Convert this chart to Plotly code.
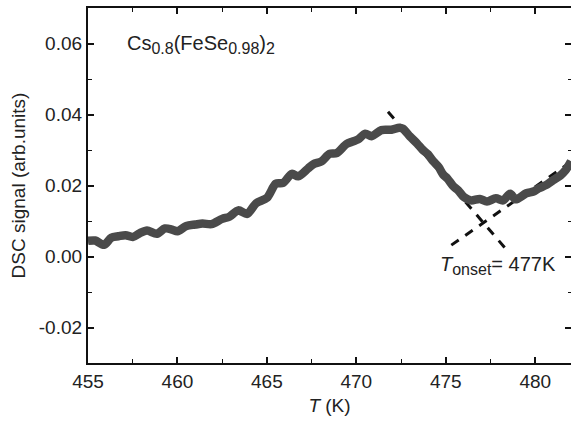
import plotly.graph_objects as go

# DSC curve (T in K, signal in arb. units)
temperature = [455.0, 455.4, 455.9, 456.3, 456.7, 457.1, 457.5, 457.9, 458.3, 458.85,
               459.3, 459.7, 460.0, 460.5, 461.0, 461.4, 461.9, 462.5, 462.9, 463.4,
               463.9, 464.4, 465.0, 465.5, 465.9, 466.4, 466.75, 467.3, 467.6, 468.05,
               468.5, 468.9, 469.45, 469.8, 470.1, 470.5, 470.85, 471.4, 471.96, 472.4,
               472.6, 473.0, 473.4, 473.7, 474.0, 474.3, 474.6, 474.85, 475.1, 475.4,
               475.7, 476.0, 476.4, 476.9, 477.3, 477.8, 478.2, 478.6, 478.9, 479.5,
               479.9, 480.2, 480.6, 481.0, 481.4, 481.7, 482.0]
dsc_signal = [0.0044, 0.0045, 0.0033, 0.0053, 0.0057, 0.0060, 0.0055, 0.0066, 0.0073, 0.0064,
              0.0079, 0.0076, 0.0071, 0.0086, 0.0090, 0.0093, 0.0091, 0.0106, 0.0112, 0.0130,
              0.0120, 0.0150, 0.0165, 0.0205, 0.0207, 0.0233, 0.0226, 0.0248, 0.0260, 0.0268,
              0.0289, 0.0291, 0.0317, 0.0324, 0.0330, 0.0346, 0.0339, 0.0356, 0.0357, 0.0363,
              0.0360, 0.0338, 0.0318, 0.0301, 0.0288, 0.0268, 0.0252, 0.0231, 0.0219, 0.0199,
              0.0186, 0.0168, 0.0158, 0.0162, 0.0155, 0.0164, 0.0158, 0.0177, 0.0161, 0.0178,
              0.0183, 0.0192, 0.0201, 0.0215, 0.0228, 0.0243, 0.0268]

# Tangent construction lines for the onset
tangent_fall_T = [471.77, 478.57]
tangent_fall_y = [0.0408, 0.0009]
tangent_rise_T = [475.31, 481.95]
tangent_rise_y = [0.0032, 0.0265]

x_ticks = [455, 460, 465, 470, 475, 480]
y_ticks = [-0.02, 0.00, 0.02, 0.04, 0.06]
y_tick_text = ["-0.02", "0.00", "0.02", "0.04", "0.06"]

FONT = "Liberation Sans, Arial, sans-serif"
TXT = "#222222"
FS = 19

def sub(s):
    return "<sub><span style='font-size:16px'>" + s + "</span></sub>"

fig = go.Figure()
fig.add_trace(go.Scatter(x=temperature, y=dsc_signal, mode="lines",
                         line=dict(color="#4a4a4a", width=8.5, shape="spline", smoothing=0.8),
                         yaxis="y2", showlegend=False, hoverinfo="skip"))
fig.add_trace(go.Scatter(x=temperature, y=dsc_signal, mode="lines",
                         line=dict(color="#8a8a8a", width=6.5, shape="spline", smoothing=0.8),
                         showlegend=False, hoverinfo="skip"))
fig.add_trace(go.Scatter(x=temperature, y=dsc_signal, mode="lines",
                         line=dict(color="#ababab", width=2, shape="spline", smoothing=0.8),
                         showlegend=False, hoverinfo="skip"))
fig.add_trace(go.Scatter(x=tangent_fall_T, y=tangent_fall_y, mode="lines",
                         line=dict(color="#111111", width=3, dash="9px,8px"),
                         showlegend=False, hoverinfo="skip"))
fig.add_trace(go.Scatter(x=tangent_rise_T, y=tangent_rise_y, mode="lines",
                         line=dict(color="#111111", width=3, dash="9px,8px"),
                         showlegend=False, hoverinfo="skip"))

axis_common = dict(showgrid=False, zeroline=False, ticks="inside", ticklen=6, tickwidth=1.5,
                   tickcolor="#111111", automargin=False,
                   tickfont=dict(family=FONT, size=FS, color=TXT))

fig.update_layout(
    width=571, height=424,
    margin=dict(l=88, r=0, t=8, b=61),
    paper_bgcolor="white", plot_bgcolor="white",
    font=dict(family=FONT, size=FS, color=TXT),
    xaxis=dict(range=[455, 482], tickvals=x_ticks, showline=True, linewidth=2.2,
               linecolor="#111111", mirror="ticks",
               minor=dict(dtick=2.5, tick0=455, ticks="inside", ticklen=3.5, tickwidth=1.2,
                          tickcolor="#111111"),
               title=dict(text="<i>T</i> (K)", font=dict(family=FONT, size=FS, color=TXT),
                          standoff=8),
               **axis_common),
    yaxis=dict(range=[-0.03, 0.07], tickvals=y_ticks, ticktext=y_tick_text, showline=True,
               linewidth=2.2, linecolor="#111111",
               minor=dict(dtick=0.01, tick0=0, ticks="inside", ticklen=3.5, tickwidth=1.2,
                          tickcolor="#111111"),
               title=dict(text="DSC signal (arb.units)",
                          font=dict(family=FONT, size=FS, color=TXT), standoff=8),
               **axis_common),
    yaxis2=dict(range=[-0.03, 0.07], overlaying="y", side="right", matches="y",
                tickvals=y_ticks, showticklabels=False, showline=False,
                minor=dict(dtick=0.01, tick0=0, ticks="inside", ticklen=3.5, tickwidth=1.2,
                           tickcolor="#111111"),
                **axis_common),
)

fig.add_annotation(x=457.08, y=0.0596, xref="x", yref="y", xanchor="left", yanchor="middle",
                   text="Cs" + sub("0.8") + "(FeSe" + sub("0.98") + ")" + sub("2"),
                   showarrow=False, font=dict(family=FONT, size=20, color=TXT))
fig.add_annotation(x=477.9, y=-0.0024, xref="x", yref="y", xanchor="center", yanchor="middle",
                   text="<i>T</i>" + sub("onset") + "= 477K", showarrow=False,
                   font=dict(family=FONT, size=20, color=TXT))

fig.write_html("out.html", config={"displayModeBar": False},
               post_script="document.body.style.margin='0';document.body.style.overflow='hidden';")
